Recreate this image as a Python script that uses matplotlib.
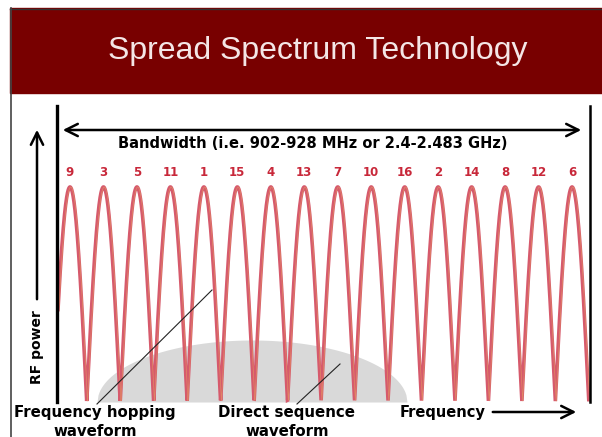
import numpy as np
import matplotlib.pyplot as plt

# Canaux de saut de fréquence (ordre affiché au-dessus des pics)
channels = [9, 3, 5, 11, 1, 15, 4, 13, 7, 10, 16, 2, 14, 8, 12, 6]
title = "Spread Spectrum Technology"
band_label = "Bandwidth (i.e. 902-928 MHz or 2.4-2.483 GHz)"
hop_label = ["Frequency hopping", "waveform"]
ds_label = ["Direct sequence", "waveform"]

# Géométrie en pixels
W, H = 602, 437
x_left, x_right = 57, 590
y_base, y_peak = 402, 187
first_peak, step = 70, 33.47

fig = plt.figure(figsize=(W / 100, H / 100), dpi=100)
ax = fig.add_axes([0, 0, 1, 1])
ax.set_xlim(0, W)
ax.set_ylim(H, 0)
ax.axis("off")

# Bandeau du titre
ax.add_patch(plt.Rectangle((10, 8), W - 10, 85, color="#780000", zorder=1))
ax.plot([10, W], [8.5, 8.5], color="#333333", lw=1, zorder=2)
ax.plot([11, 11], [8, H], color="#444444", lw=1.2, zorder=2)
ax.text(318, 51, title, color="#f4e6e6", fontsize=23, family="Liberation Sans",
        ha="center", va="center", zorder=3)

# Forme d'onde à étalement de spectre direct (zone grise)
xs = np.linspace(97, 407, 300)
c, w, h = 252, 155, 62
ax.fill_between(xs, y_base, y_base - h * np.sqrt(np.clip(1 - ((xs - c) / w) ** 2, 0, 1)),
                color="#d9d9d9", lw=0, zorder=2)

# Forme d'onde à saut de fréquence
x = np.linspace(x_left + 1, x_right - 1, 3000)
y = y_base - (y_base - y_peak) * np.abs(np.cos(np.pi * (x - first_peak) / step))
ax.plot(x, y, color="#d65a6c", lw=2.6, zorder=4, solid_joinstyle="miter")
ax.plot(x + 0.8, y, color="#e8a860", lw=0.5, alpha=0.6, zorder=4)

for i, ch in enumerate(channels):
    ax.text(first_peak + i * step, 172, str(ch), color="#c8283a", fontsize=8.5,
            fontweight="bold", ha="center", va="center", zorder=5)

# Axes du schéma
ax.plot([x_left, x_left], [106, y_base], color="black", lw=2.4, zorder=5)
ax.plot([x_right, x_right], [106, y_base], color="black", lw=1.8, zorder=5)

arrow = dict(arrowstyle="->", color="black", lw=1.8, mutation_scale=22)
ax.annotate("", xy=(60, 130), xytext=(584, 130),
            arrowprops=dict(arrow, arrowstyle="<->"), zorder=5)
ax.text(313, 144, band_label, fontsize=10.5, fontweight="bold", ha="center",
        va="center", zorder=5)

ax.annotate("", xy=(37, 127), xytext=(37, 302), arrowprops=arrow, zorder=5)
ax.text(37, 347, "RF power", rotation=90, fontsize=10, fontweight="bold",
        ha="center", va="center", zorder=5)

ax.annotate("", xy=(579, 412), xytext=(490, 412), arrowprops=arrow, zorder=5)
ax.text(443, 413, "Frequency", fontsize=10.5, fontweight="bold", ha="center",
        va="center", zorder=5)

# Légendes des deux formes d'onde
ax.plot([97, 212], [404, 290], color="#222222", lw=0.8, zorder=6)
ax.plot([297, 340], [404, 364], color="#222222", lw=0.8, zorder=6)
ax.text(95, 413, hop_label[0], fontsize=10.8, fontweight="bold", ha="center",
        va="center", zorder=5)
ax.text(95, 431, hop_label[1], fontsize=10.8, fontweight="bold", ha="center",
        va="center", zorder=5)
ax.text(287, 413, ds_label[0], fontsize=10.8, fontweight="bold", ha="center",
        va="center", zorder=5)
ax.text(287, 431, ds_label[1], fontsize=10.8, fontweight="bold", ha="center",
        va="center", zorder=5)

plt.savefig("out.png", dpi=100)
